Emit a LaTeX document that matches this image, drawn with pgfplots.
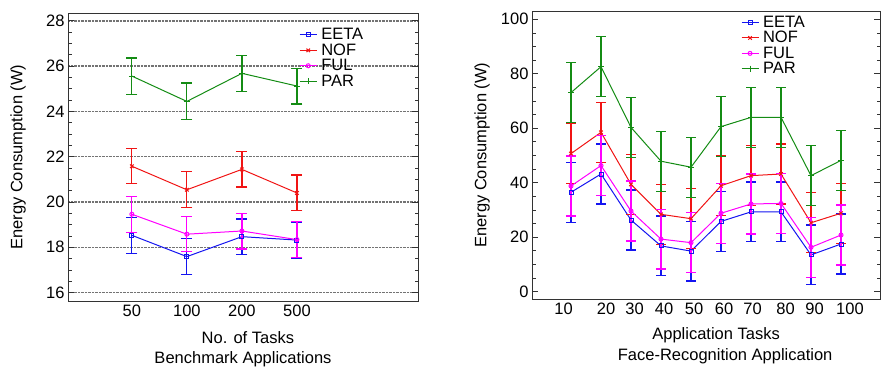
\documentclass[border=0pt]{standalone}
\usepackage{fontspec}
\setmainfont{Liberation Sans}
\usepackage{pgfplots}
\pgfplotsset{compat=1.18}
\definecolor{cB}{RGB}{20,20,240}
\definecolor{cR}{RGB}{240,20,20}
\definecolor{cM}{RGB}{255,0,255}
\definecolor{cG}{RGB}{20,140,20}
\newcommand{\fs}{\fontsize{16.5}{18}\selectfont}
\pgfplotsset{
  panel/.style={
    scale only axis, anchor=south west,
    axis line style={black!80, line width=1pt},
    tick label style={font=\fs},
    /pgf/number format/assume math mode=true,
    xtick style={draw=none},
    ytick style={black!80, line width=0.8pt},
    major tick length=6pt, minor tick length=3.5pt,
    minor y tick num=3,
    legend style={draw=none, fill=none, font=\fs, inner sep=0pt, row sep=-1.5pt,
      nodes={inner xsep=4pt}},
    legend cell align=left,
    ylabel={Energy Consumption (W)},
    every axis y label/.style={at={(rel axis cs:0,0.5)}, xshift=-50pt, rotate=90, anchor=center, font=\fs},
    every axis plot/.append style={line width=1pt},
    error bars/y dir=both, error bars/y explicit,
  },
  ser/.style 2 args={color=#1,
    error bars/error bar style={draw=#1, line width=1.2pt},
    error bars/error mark options={draw=#1, rotate=90, line width=1.2pt, mark size=#2}},
  sEETA/.style={ser={cB}{#1}, mark=square, mark size=2pt},
  sNOF/.style={ser={cR}{#1}, mark=x, mark size=2.5pt},
  sFUL/.style={ser={cM}{#1}, mark=o, mark size=2pt},
  sPAR/.style={ser={cG}{#1}, mark=+, mark size=3pt},
}
\begin{document}
\begin{tikzpicture}
\path[use as bounding box] (0,0) rectangle (882pt,368pt);
% Left panel
\begin{axis}[panel, at={(68pt,67pt)}, width=350pt, height=287.7pt,
  xmin=-1.16, xmax=5.2, ymin=15.63, ymax=28.33,
  xtick={0,1,2,3}, xticklabels={50,100,200,500},
  ytick={16,18,20,22,24,26,28},
  ymajorgrids, major grid style={black!55, line width=1.5pt, dash pattern=on 0.8pt off 0.6pt},
  legend style={at={(0.66,0.955)}, anchor=north west},
  clip=false]
\addplot[sEETA=5.5pt] coordinates {(0,18.53) +- (0,0.8) (1,17.59) +- (0,0.8) (2,18.47) +- (0,0.78) (3,18.32) +- (0,0.8)};
\addlegendentry{EETA}
\addplot[sNOF=5.5pt] coordinates {(0,21.58) +- (0,0.78) (1,20.54) +- (0,0.8) (2,21.44) +- (0,0.78) (3,20.40) +- (0,0.79)};
\addlegendentry{NOF}
\addplot[sFUL=5.5pt] coordinates {(0,19.46) +- (0,0.8) (1,18.58) +- (0,0.78) (2,18.72) +- (0,0.79) (3,18.34) +- (0,0.79)};
\addlegendentry{FUL}
\addplot[sPAR=5.5pt] coordinates {(0,25.56) +- (0,0.8) (1,24.44) +- (0,0.81) (2,25.68) +- (0,0.79) (3,25.12) +- (0,0.79)};
\addlegendentry{PAR}
\node[font=\fs] at (rel axis cs:0.514,0) [yshift=-37pt] {No. of Tasks};
\node[font=\fs] at (rel axis cs:0.5,0) [yshift=-58pt] {Benchmark Applications};
\end{axis}
% Right panel
\begin{axis}[panel, at={(532pt,68.7pt)}, width=348pt, height=288.3pt,
  xmin=-1.3, xmax=10.3, ymin=-2.8, ymax=103.05,
  xtick={-0.25,1.17,2.12,3.1,4.1,5.1,6.05,7.15,8.12,9.3},
  xticklabels={10,20,30,40,50,60,70,80,90,100},
  ytick={0,20,40,60,80,100},
  legend style={at={(0.6,0.99)}, anchor=north west},
  clip=false]
\addplot[sEETA=4.7pt] coordinates {(0,36.5) +- (0,11) (1,43.2) +- (0,11) (2,26.3) +- (0,11) (3,16.8) +- (0,11) (4,14.9) +- (0,11) (5,25.8) +- (0,11) (6,29.3) +- (0,11) (7,29.3) +- (0,11) (8,13.5) +- (0,11) (9,17.5) +- (0,11)};
\addlegendentry{EETA}
\addplot[sNOF=4.7pt] coordinates {(0,50.7) +- (0,11) (1,58.5) +- (0,11) (2,39.4) +- (0,11) (3,28.4) +- (0,11) (4,26.8) +- (0,11) (5,38.9) +- (0,11) (6,42.6) +- (0,11) (7,43.2) +- (0,11) (8,25.3) +- (0,11) (9,28.8) +- (0,11)};
\addlegendentry{NOF}
\addplot[sFUL=4.7pt] coordinates {(0,38.8) +- (0,11) (1,46.3) +- (0,11) (2,29.6) +- (0,11) (3,19.3) +- (0,11) (4,18.0) +- (0,11) (5,28.8) +- (0,11) (6,32.2) +- (0,11) (7,32.4) +- (0,11) (8,16.3) +- (0,11) (9,20.8) +- (0,11)};
\addlegendentry{FUL}
\addplot[sPAR=4.7pt] coordinates {(0,73.1) +- (0,11) (1,82.6) +- (0,11) (2,60.3) +- (0,11) (3,47.9) +- (0,11) (4,45.7) +- (0,11) (5,60.6) +- (0,11) (6,64.0) +- (0,11) (7,64.0) +- (0,11) (8,42.6) +- (0,11) (9,48.2) +- (0,11)};
\addlegendentry{PAR}
\node[font=\fs] at (rel axis cs:0.529,0) [yshift=-36pt] {Application Tasks};
\node[font=\fs] at (rel axis cs:0.555,0) [yshift=-57pt] {Face-Recognition Application};
\end{axis}
\end{tikzpicture}
\end{document}
